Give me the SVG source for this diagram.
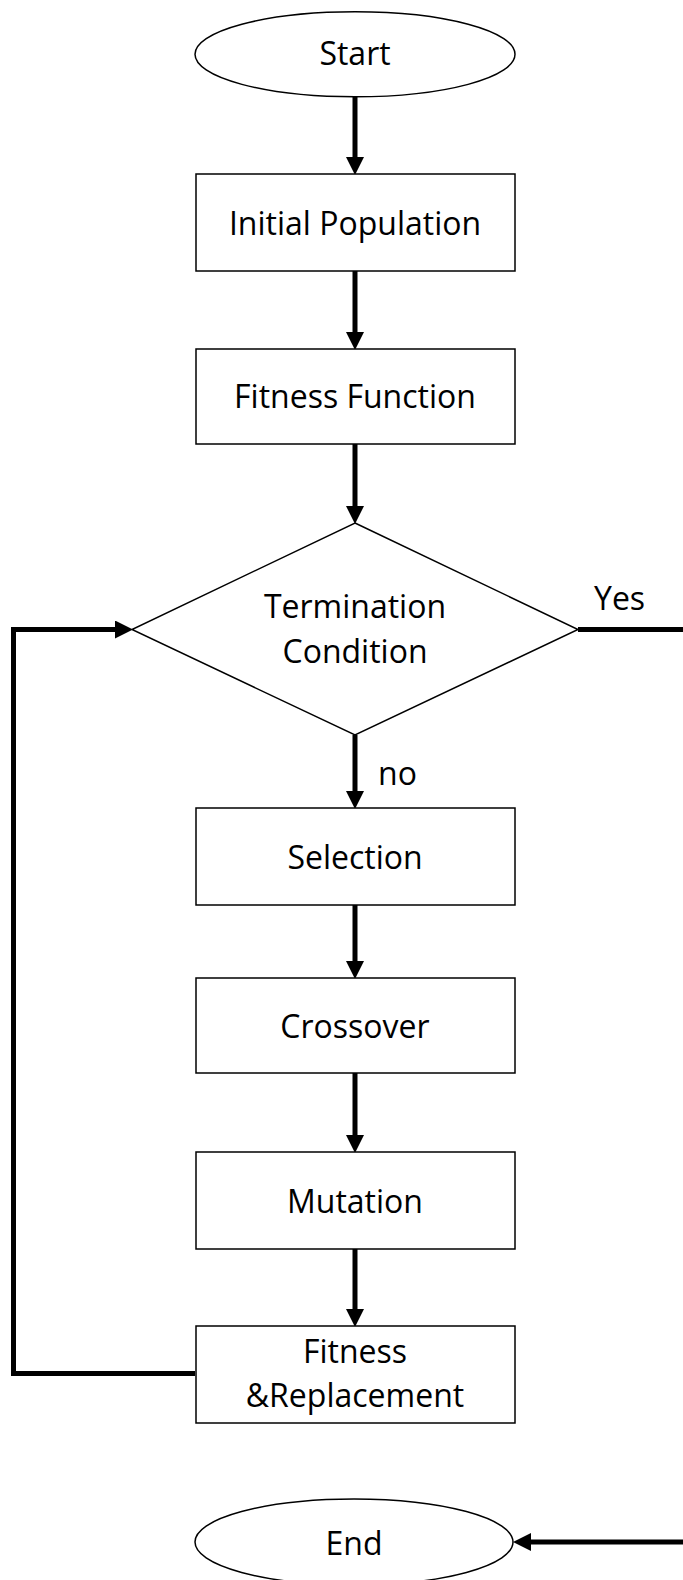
<svg xmlns="http://www.w3.org/2000/svg" width="683" height="1580" viewBox="0 0 683 1580">
<style>
.node{fill:#fff;stroke:#000;stroke-width:1.5}
.lbl{font-family:"Open Sans","Liberation Sans",sans-serif;font-size:32px;fill:#000;text-anchor:middle}
.side{font-family:"Open Sans","Liberation Sans",sans-serif;font-size:32px;fill:#000}
.conn{fill:none;stroke:#000;stroke-width:5}
</style>
<defs>
<marker id="ah" markerUnits="userSpaceOnUse" markerWidth="18" markerHeight="18" viewBox="0 0 17 17" refX="0" refY="8.5" orient="auto">
<path d="M0,0 L17,8.5 L0,17 Z" fill="#000"/>
</marker>
</defs>
<rect width="683" height="1580" fill="#fff"/>
<g id="connectors">
<path class="conn" d="M355,97 V157" marker-end="url(#ah)"/>
<path class="conn" d="M355,271 V332" marker-end="url(#ah)"/>
<path class="conn" d="M355,444 V506" marker-end="url(#ah)"/>
<path class="conn" d="M355,735 V791" marker-end="url(#ah)"/>
<path class="conn" d="M355,905 V961" marker-end="url(#ah)"/>
<path class="conn" d="M355,1073 V1135" marker-end="url(#ah)"/>
<path class="conn" d="M355,1249 V1309" marker-end="url(#ah)"/>
<path class="conn" d="M195,1373.5 H13.5 V629.5 H115" marker-end="url(#ah)"/>
<path class="conn" d="M578,629.5 H683"/>
<path class="conn" d="M683,1542 H531" marker-end="url(#ah)"/>
<text class="side" x="594" y="610">Yes</text>
<text class="side" x="378" y="785">no</text>
</g>
<g id="start">
<ellipse class="node" cx="355" cy="54.3" rx="160" ry="42.5"/>
<text class="lbl" x="355" y="65">Start</text>
</g>
<g id="initial-population">
<rect class="node" x="196" y="174" width="319" height="97"/>
<text class="lbl" x="355" y="235">Initial Population</text>
</g>
<g id="fitness-function">
<rect class="node" x="196" y="349" width="319" height="95"/>
<text class="lbl" x="355" y="408">Fitness Function</text>
</g>
<g id="termination">
<polygon class="node" points="355,523 578,629.5 355,735 132,629.5"/>
<text class="lbl" x="355" y="618">Termination</text>
<text class="lbl" x="355" y="663">Condition</text>
</g>
<g id="selection">
<rect class="node" x="196" y="808" width="319" height="97"/>
<text class="lbl" x="355" y="869">Selection</text>
</g>
<g id="crossover">
<rect class="node" x="196" y="978" width="319" height="95"/>
<text class="lbl" x="355" y="1038">Crossover</text>
</g>
<g id="mutation">
<rect class="node" x="196" y="1152" width="319" height="97"/>
<text class="lbl" x="355" y="1213">Mutation</text>
</g>
<g id="fitness-replacement">
<rect class="node" x="196" y="1326" width="319" height="97"/>
<text class="lbl" x="355" y="1363">Fitness</text>
<text class="lbl" x="355" y="1407">&amp;Replacement</text>
</g>
<g id="end">
<ellipse class="node" cx="354" cy="1542" rx="159" ry="43"/>
<text class="lbl" x="354" y="1555">End</text>
</g>
</svg>
